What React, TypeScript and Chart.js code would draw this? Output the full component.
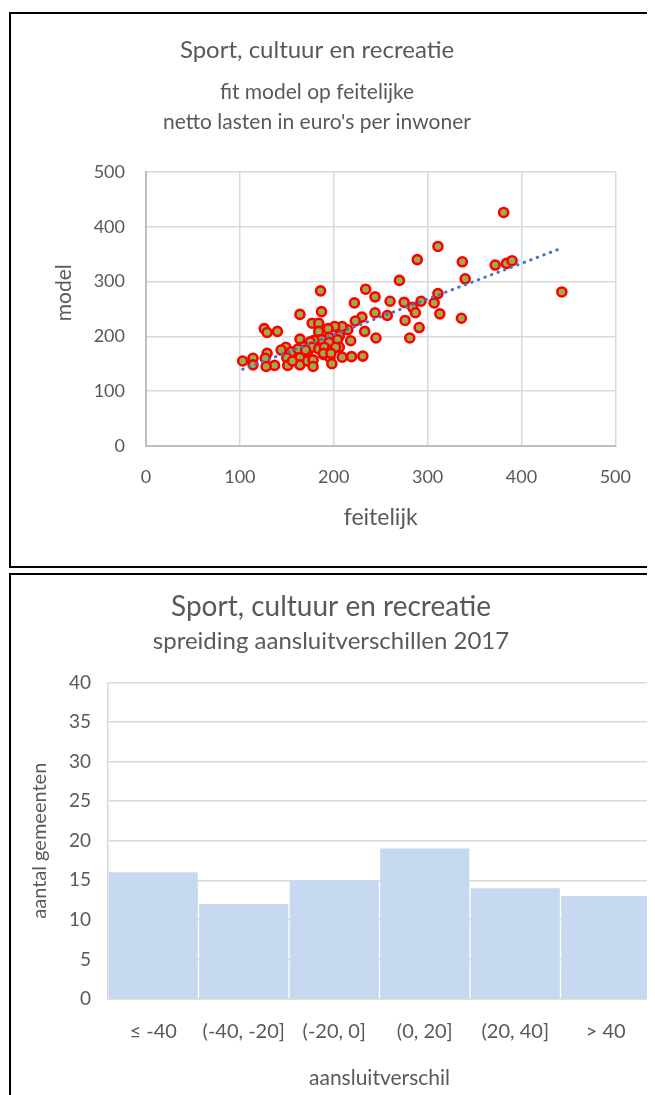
import React, { useEffect, useRef } from "react";
import { Chart, registerables } from "chart.js";

Chart.register(...registerables);

// ---- Scatter: fit model op feitelijke netto lasten ----
const scatterFeitelijk = [
  381, 311, 289, 337, 372, 384, 390, 270, 340, 443,
  186, 234, 244, 311, 222, 260, 275, 293, 307, 284,
  287, 313, 336, 244, 257, 276, 291, 230, 223, 164,
  187, 177, 184, 245, 281, 233, 215, 209, 201, 194,
  184, 140, 126, 129, 218, 206, 204, 195, 187, 179,
  175, 164, 195, 206, 219, 231, 168, 149, 144, 155,
  162, 172, 177, 184, 190, 198, 129, 114, 103, 127,
  137, 128, 114, 150, 151, 164, 164, 172, 178, 178,
  189, 196, 198, 209, 202, 170, 156, 189, 197,
];
const scatterModel = [
  426, 364, 340, 336, 330, 333, 338, 302, 305, 281,
  283, 286, 272, 278, 261, 264, 262, 264, 261, 253,
  243, 241, 233, 243, 238, 229, 216, 235, 228, 240,
  245, 224, 224, 197, 197, 209, 212, 218, 218, 214,
  209, 209, 214, 207, 192, 201, 194, 198, 194, 193,
  190, 195, 189, 180, 163, 164, 181, 180, 175, 172,
  177, 172, 180, 177, 180, 175, 169, 160, 155, 160,
  147, 145, 148, 161, 147, 161, 148, 155, 157, 145,
  167, 161, 150, 162, 180, 175, 155, 169, 169,
];
const trendFeitelijk = [103, 443];
const trendModel = [140, 361];
const scatterTitle = "Sport, cultuur en recreatie";
const scatterSubtitle = ["fit model op feitelijke", "netto lasten in euro's per inwoner"];
const scatterXTitle = "feitelijk";
const scatterYTitle = "model";

// ---- Histogram: spreiding aansluitverschillen ----
const histCategories = ["≤ -40", "(-40, -20]", "(-20, 0]", "(0, 20]", "(20, 40]", "> 40"];
const histCounts = [16, 12, 15, 19, 14, 13];
const histTitle = "Sport, cultuur en recreatie";
const histSubtitle = "spreiding aansluitverschillen 2017";
const histXTitle = "aansluitverschil";
const histYTitle = "aantal gemeenten";

const TEXT = "#595959";
const GRID = "#D9D9D9";
const FONT = "Lato, 'Open Sans', sans-serif";

export default function App() {
  const scatterRef = useRef<HTMLCanvasElement | null>(null);
  const histRef = useRef<HTMLCanvasElement | null>(null);

  useEffect(() => {
    Chart.defaults.font.family = FONT;
    Chart.defaults.color = TEXT;

    const scatterPoints = scatterFeitelijk.map((x, i) => ({ x, y: scatterModel[i] }));
    const trendPoints = trendFeitelijk.map((x, i) => ({ x, y: trendModel[i] }));

    const c1 = new Chart(scatterRef.current as HTMLCanvasElement, {
      type: "scatter",
      data: {
        datasets: [
          {
            type: "line",
            data: trendPoints,
            borderColor: "#4472C4",
            borderWidth: 3,
            borderDash: [0.5, 6.5],
            borderCapStyle: "round",
            pointRadius: 0,
            fill: false,
          } as any,
          {
            data: scatterPoints,
            pointRadius: 4.5,
            pointBorderWidth: 2.6,
            pointBorderColor: "#FF0000",
            pointBackgroundColor: "#98AE4A",
            borderColor: "#FF0000",
            backgroundColor: "#98AE4A",
          },
        ],
      },
      options: {
        animation: false,
        responsive: false,
        layout: { padding: { left: 0, right: 28, top: 0, bottom: 0 } },
        plugins: {
          legend: { display: false },
          tooltip: { enabled: false },
          title: {
            display: true,
            text: scatterTitle,
            color: TEXT,
            font: { size: 24, weight: "normal" },
            padding: { top: 22, bottom: 0 },
          },
          subtitle: {
            display: true,
            text: scatterSubtitle,
            color: TEXT,
            font: { size: 21, lineHeight: 1.43 },
            padding: { top: 12, bottom: 35 },
          },
        },
        scales: {
          x: {
            type: "linear",
            min: 0,
            max: 500,
            ticks: { stepSize: 100, padding: 20, color: TEXT, font: { size: 18 } },
            grid: { color: GRID, lineWidth: 1.5, drawTicks: false },
            border: { color: "#BFBFBF", width: 2 },
            title: {
              display: true,
              text: scatterXTitle,
              color: TEXT,
              font: { size: 23 },
              padding: { top: 0, bottom: 35 },
            },
            afterFit: (s: any) => {
              s.height = 120;
            },
          },
          y: {
            type: "linear",
            min: 0,
            max: 500,
            ticks: { stepSize: 100, padding: 21, color: TEXT, font: { size: 18 } },
            grid: { color: GRID, lineWidth: 1.5, drawTicks: false },
            border: { color: "#BFBFBF", width: 2 },
            title: {
              display: true,
              text: "      " + scatterYTitle,
              color: TEXT,
              font: { size: 21 },
              padding: { top: 41, bottom: 0 },
            },
            afterFit: (s: any) => {
              s.width = 135;
            },
          },
        },
      },
    });

    const c2 = new Chart(histRef.current as HTMLCanvasElement, {
      type: "bar",
      data: {
        labels: histCategories,
        datasets: [
          {
            data: histCounts,
            backgroundColor: "#C6D9F0",
            borderWidth: 0,
            barPercentage: 0.985,
            categoryPercentage: 1,
          },
        ],
      },
      options: {
        animation: false,
        responsive: false,
        layout: { padding: { left: 0, right: 0, top: 0, bottom: 0 } },
        plugins: {
          legend: { display: false },
          tooltip: { enabled: false },
          title: {
            display: true,
            text: histTitle,
            color: TEXT,
            font: { size: 28, weight: "normal" },
            padding: { top: 15, bottom: 0 },
          },
          subtitle: {
            display: true,
            text: histSubtitle,
            color: TEXT,
            font: { size: 24, lineHeight: 1.2 },
            padding: { top: 3, bottom: 27 },
          },
        },
        scales: {
          x: {
            ticks: { padding: 21, color: TEXT, font: { size: 20 } },
            grid: { display: false, drawTicks: false },
            border: { color: GRID, width: 1.5 },
            title: {
              display: true,
              text: histXTitle,
              color: TEXT,
              font: { size: 21 },
              padding: { top: 0, bottom: 4 },
            },
            afterFit: (s: any) => {
              s.height = 96;
            },
          },
          y: {
            min: 0,
            max: 40,
            ticks: { stepSize: 5, padding: 17, color: TEXT, font: { size: 19 } },
            grid: { color: GRID, lineWidth: 1.5, drawTicks: false },
            border: { color: GRID, width: 1.5 },
            title: {
              display: true,
              text: histYTitle,
              color: TEXT,
              font: { size: 20 },
              padding: { top: 17, bottom: 0 },
            },
            afterFit: (s: any) => {
              s.width = 97;
            },
          },
        },
      },
    });

    return () => {
      c1.destroy();
      c2.destroy();
    };
  }, []);

  return (
    <>
      <style>{"html,body{overflow:hidden;background:#fff;}"}</style>
      <div style={{ position: "relative", width: 647, height: 1090, overflow: "hidden" }}>
        <div
          style={{
            position: "absolute",
            left: 1,
            top: 4,
            width: 700,
            height: 556,
            border: "2px solid #000",
            boxSizing: "border-box",
            background: "#fff",
          }}
        >
          <canvas
            ref={scatterRef}
            width={640}
            height={552}
            style={{ position: "absolute", left: 0, top: 0, width: 640, height: 552 }}
          />
        </div>
        <div
          style={{
            position: "absolute",
            left: 1,
            top: 565,
            width: 700,
            height: 600,
            border: "2px solid #000",
            boxSizing: "border-box",
            background: "#fff",
          }}
        >
          <canvas
            ref={histRef}
            width={640}
            height={520}
            style={{ position: "absolute", left: 0, top: 0, width: 640, height: 520 }}
          />
        </div>
      </div>
    </>
  );
}
